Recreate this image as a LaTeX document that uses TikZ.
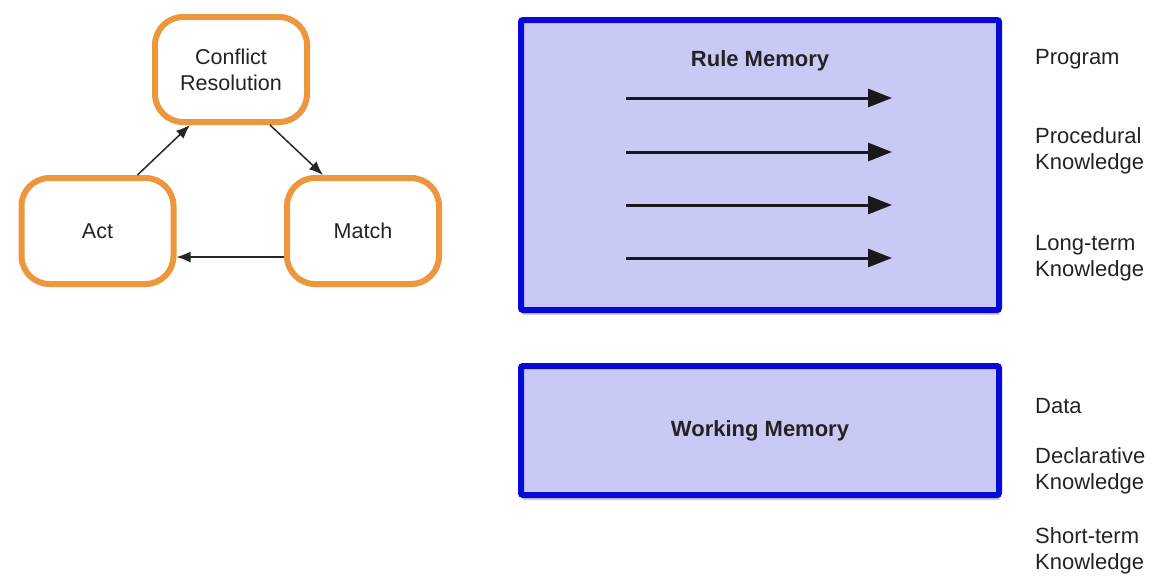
\documentclass[tikz,border=0pt]{standalone}
\usepackage{fontspec}
\setmainfont{Liberation Sans}
\usetikzlibrary{arrows.meta,shadows}
\definecolor{orng}{RGB}{236,150,62}
\definecolor{bluebd}{RGB}{8,8,215}
\definecolor{bluefill}{RGB}{201,201,246}
\definecolor{txt}{RGB}{35,35,35}
\tikzset{
  cyclebox/.style={draw=orng, line width=6pt, fill=white, rounded corners=28pt,
    minimum width=152pt, minimum height=105pt, align=center, text=txt,
    font=\fontsize{21.5}{26}\selectfont,
    drop shadow={opacity=0.25, shadow xshift=1pt, shadow yshift=-3pt}},
  membox/.style={draw=bluebd, line width=6pt, fill=bluefill, rounded corners=2pt,
    minimum width=478pt, text=txt, font=\fontsize{22}{26}\selectfont\bfseries,
    drop shadow={opacity=0.4, shadow xshift=1pt, shadow yshift=-5pt}},
  smallarrow/.style={-{Latex[length=14pt,width=11pt]}, line width=1.5pt, draw=black!85},
  bigarrow/.style={-{Triangle[length=24pt,width=18pt]}, line width=3pt, draw=black!90},
  sidelabel/.style={anchor=west, inner sep=0pt, align=left, text=txt,
    font=\fontsize{22}{26}\selectfont},
  memtitle/.style={inner sep=0pt, text=txt, font=\fontsize{22}{26}\selectfont\bfseries}
}
\begin{document}
\begin{tikzpicture}[x=1pt,y=-1pt]
\useasboundingbox (0,0) rectangle (1153,576);
% cycle
\node[cyclebox] (cr) at (231,69.5) {Conflict\\Resolution};
\node[cyclebox, minimum height=106pt] (act) at (97.5,231) {Act};
\node[cyclebox, minimum height=106pt] (match) at (363,231) {Match};
\draw[smallarrow] ([xshift=40pt]act.north) -- ([xshift=-41pt]cr.south);
\draw[smallarrow] ([xshift=39pt]cr.south) -- ([xshift=-40pt]match.north);
\draw[smallarrow] ([yshift=-26pt]match.west) -- ([yshift=-26pt]act.east);
% memories
\node[membox, minimum height=290pt] (rm) at (760,165) {};
\node[memtitle] (rmt) at (760,61) {Rule Memory};
\node[membox, minimum height=129pt] (wm) at (760,430.5) {Working Memory};
% rule arrows
\coordinate (a1s) at (626,98);  \coordinate (a1e) at (892,98);
\coordinate (a2s) at (626,152); \coordinate (a2e) at (892,152);
\coordinate (a3s) at (626,205); \coordinate (a3e) at (892,205);
\coordinate (a4s) at (626,258); \coordinate (a4e) at (892,258);
\draw[bigarrow] (a1s) -- (a1e);
\draw[bigarrow] (a2s) -- (a2e);
\draw[bigarrow] (a3s) -- (a3e);
\draw[bigarrow] (a4s) -- (a4e);
% side labels
\node[sidelabel] (l1) at (1035,59) {Program};
\node[sidelabel] (l2) at (1035,151) {Procedural\\Knowledge};
\node[sidelabel] (l3) at (1035,258) {Long-term\\Knowledge};
\node[sidelabel] (l4) at (1035,406) {Data};
\node[sidelabel] (l5) at (1035,471) {Declarative\\Knowledge};
\node[sidelabel] (l6) at (1035,551) {Short-term\\Knowledge};
\end{tikzpicture}
\end{document}
